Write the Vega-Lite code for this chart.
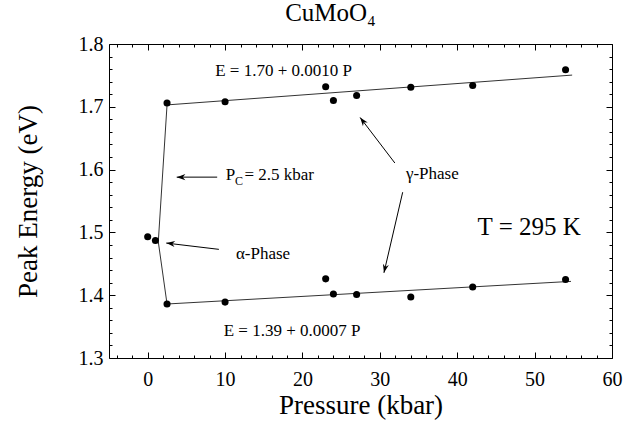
{
  "$schema": "https://vega.github.io/schema/vega-lite/v6.json",
  "width": 503,
  "height": 314,
  "autosize": "none",
  "padding": {"left": 109, "top": 44, "right": 24, "bottom": 68},
  "background": "white",
  "config": {
    "view": {"stroke": "black", "strokeWidth": 1},
    "font": "Liberation Serif"
  },
  "title": {
    "text": "CuMoO₄",
    "font": "Liberation Serif",
    "fontSize": 25,
    "fontWeight": "normal",
    "color": "black",
    "anchor": "middle",
    "dx": -30,
    "offset": 8
  },
  "datasets": {
    "pts": [
      {"P": 2.5, "E": 1.706, "phase": "gamma-upper"},
      {"P": 10, "E": 1.708, "phase": "gamma-upper"},
      {"P": 23, "E": 1.732, "phase": "gamma-upper"},
      {"P": 24, "E": 1.710, "phase": "gamma-upper"},
      {"P": 27, "E": 1.718, "phase": "gamma-upper"},
      {"P": 34, "E": 1.731, "phase": "gamma-upper"},
      {"P": 42, "E": 1.734, "phase": "gamma-upper"},
      {"P": 54, "E": 1.759, "phase": "gamma-upper"},
      {"P": 2.5, "E": 1.386, "phase": "gamma-lower"},
      {"P": 10, "E": 1.389, "phase": "gamma-lower"},
      {"P": 23, "E": 1.426, "phase": "gamma-lower"},
      {"P": 24, "E": 1.402, "phase": "gamma-lower"},
      {"P": 27, "E": 1.401, "phase": "gamma-lower"},
      {"P": 34, "E": 1.397, "phase": "gamma-lower"},
      {"P": 42, "E": 1.413, "phase": "gamma-lower"},
      {"P": 54, "E": 1.425, "phase": "gamma-lower"},
      {"P": 0, "E": 1.493, "phase": "alpha"},
      {"P": 1, "E": 1.487, "phase": "alpha"}
    ],
    "fit": [
      {"ord": 1, "P": 54.85, "E": 1.7505},
      {"ord": 2, "P": 2.5, "E": 1.703},
      {"ord": 3, "P": 1.37, "E": 1.485},
      {"ord": 4, "P": 2.5, "E": 1.386},
      {"ord": 5, "P": 54.7, "E": 1.422}
    ],
    "arrows": [
      {"P": 8.98, "E": 1.588, "P2": 3.75, "E2": 1.588},
      {"P": 9.2, "E": 1.473, "P2": 2.4, "E2": 1.483},
      {"P": 31.94, "E": 1.6105, "P2": 27.45, "E2": 1.683},
      {"P": 32.95, "E": 1.564, "P2": 30.53, "E2": 1.4356}
    ],
    "notes": [
      {"label": "E = 1.70 + 0.0010 P", "P": 17.56, "E": 1.7568},
      {"label": "E = 1.39 + 0.0007 P", "P": 18.66, "E": 1.3426},
      {"label": "γ-Phase", "P": 36.78, "E": 1.5926},
      {"label": "α-Phase", "P": 14.9, "E": 1.465}
    ],
    "tnote": [{"label": "T = 295 K", "P": 49.3, "E": 1.508}],
    "pc": [
      {"label": "P", "P": 10.08, "E": 1.591},
      {"label": "= 2.5 kbar", "P": 12.5, "E": 1.591}
    ],
    "pcsub": [{"label": "C", "P": 11.27, "E": 1.582}]
  },
  "resolve": {"axis": {"x": "independent", "y": "independent"}},
  "layer": [
    {
      "data": {"name": "fit"},
      "mark": {"type": "line", "color": "#333333", "strokeWidth": 1},
      "encoding": {
        "x": {
          "field": "P", "type": "quantitative",
          "scale": {"domain": [-5, 60], "nice": false, "zero": false},
          "axis": {
            "orient": "bottom",
            "values": [-4, -2, 0, 2, 4, 6, 8, 10, 12, 14, 16, 18, 20, 22, 24, 26, 28, 30, 32, 34, 36, 38, 40, 42, 44, 46, 48, 50, 52, 54, 56, 58, 60],
            "format": "d",
            "labelExpr": "datum.value % 10 === 0 ? datum.label : ''",
            "tickSize": {"condition": {"test": "datum.value % 10 === 0", "value": -6}, "value": -3},
            "tickColor": "black",
            "domain": false,
            "grid": false,
            "labelFont": "Liberation Serif",
            "labelFontSize": 20,
            "labelColor": "black",
            "labelPadding": 17,
            "labelFlush": false,
            "labelOverlap": false,
            "title": "Pressure (kbar)",
            "titleFont": "Liberation Serif",
            "titleFontSize": 27,
            "titleFontWeight": "normal",
            "titleColor": "black",
            "titlePadding": 0
          }
        },
        "y": {
          "field": "E", "type": "quantitative",
          "scale": {"domain": [1.3, 1.8], "nice": false, "zero": false},
          "axis": {
            "orient": "left",
            "values": [1.30, 1.32, 1.34, 1.36, 1.38, 1.40, 1.42, 1.44, 1.46, 1.48, 1.50, 1.52, 1.54, 1.56, 1.58, 1.60, 1.62, 1.64, 1.66, 1.68, 1.70, 1.72, 1.74, 1.76, 1.78, 1.80],
            "format": ".1f",
            "labelExpr": "abs(datum.value * 10 - round(datum.value * 10)) < 0.01 ? datum.label : ''",
            "tickSize": {"condition": {"test": "abs(datum.value * 10 - round(datum.value * 10)) < 0.01", "value": -6}, "value": -3},
            "tickColor": "black",
            "domain": false,
            "grid": false,
            "labelFont": "Liberation Serif",
            "labelFontSize": 20,
            "labelColor": "black",
            "labelPadding": 12,
            "labelOverlap": false,
            "labelFlush": false,
            "title": "Peak Energy (eV)",
            "titleFont": "Liberation Serif",
            "titleFontSize": 27,
            "titleFontWeight": "normal",
            "titleColor": "black",
            "titlePadding": 36
          }
        },
        "order": {"field": "ord", "type": "quantitative"}
      }
    },
    {
      "data": {"name": "pts"},
      "mark": {"type": "circle", "color": "black", "size": 50, "opacity": 1},
      "encoding": {
        "x": {
          "field": "P", "type": "quantitative",
          "scale": {"domain": [-5, 60], "nice": false, "zero": false},
          "axis": {
            "orient": "top",
            "values": [-4, -2, 0, 2, 4, 6, 8, 10, 12, 14, 16, 18, 20, 22, 24, 26, 28, 30, 32, 34, 36, 38, 40, 42, 44, 46, 48, 50, 52, 54, 56, 58, 60],
            "labels": false,
            "tickSize": {"condition": {"test": "datum.value % 10 === 0", "value": -6}, "value": -3},
            "tickColor": "black",
            "domain": false,
            "grid": false,
            "title": null
          }
        },
        "y": {
          "field": "E", "type": "quantitative",
          "scale": {"domain": [1.3, 1.8], "nice": false, "zero": false},
          "axis": {
            "orient": "right",
            "values": [1.30, 1.32, 1.34, 1.36, 1.38, 1.40, 1.42, 1.44, 1.46, 1.48, 1.50, 1.52, 1.54, 1.56, 1.58, 1.60, 1.62, 1.64, 1.66, 1.68, 1.70, 1.72, 1.74, 1.76, 1.78, 1.80],
            "labels": false,
            "tickSize": {"condition": {"test": "abs(datum.value * 10 - round(datum.value * 10)) < 0.01", "value": -6}, "value": -3},
            "tickColor": "black",
            "domain": false,
            "grid": false,
            "title": null
          }
        }
      }
    },
    {
      "data": {"name": "arrows"},
      "mark": {"type": "rule", "color": "black", "strokeWidth": 1},
      "encoding": {
        "x": {"field": "P", "type": "quantitative", "scale": {"domain": [-5, 60], "nice": false, "zero": false}, "axis": null},
        "y": {"field": "E", "type": "quantitative", "scale": {"domain": [1.3, 1.8], "nice": false, "zero": false}, "axis": null},
        "x2": {"field": "P2"},
        "y2": {"field": "E2"}
      }
    },
    {
      "data": {"name": "arrows"},
      "transform": [
        {"calculate": "atan2(-(datum.E2 - datum.E) * 628, (datum.P2 - datum.P) * 7.738) * 180 / PI", "as": "heading"}
      ],
      "mark": {"type": "point", "shape": "M0,0L-1,-0.35L-0.7,0L-1,0.35Z", "filled": true, "color": "black", "size": 300, "opacity": 1},
      "encoding": {
        "x": {"field": "P2", "type": "quantitative", "scale": {"domain": [-5, 60], "nice": false, "zero": false}, "axis": null},
        "y": {"field": "E2", "type": "quantitative", "scale": {"domain": [1.3, 1.8], "nice": false, "zero": false}, "axis": null},
        "angle": {"field": "heading", "type": "quantitative", "scale": null}
      }
    },
    {
      "data": {"name": "notes"},
      "mark": {"type": "text", "font": "Liberation Serif", "fontSize": 17, "color": "black", "align": "center", "baseline": "middle"},
      "encoding": {
        "x": {"field": "P", "type": "quantitative", "scale": {"domain": [-5, 60], "nice": false, "zero": false}, "axis": null},
        "y": {"field": "E", "type": "quantitative", "scale": {"domain": [1.3, 1.8], "nice": false, "zero": false}, "axis": null},
        "text": {"field": "label"}
      }
    },
    {
      "data": {"name": "tnote"},
      "mark": {"type": "text", "font": "Liberation Serif", "fontSize": 25, "color": "black", "align": "center", "baseline": "middle"},
      "encoding": {
        "x": {"field": "P", "type": "quantitative", "scale": {"domain": [-5, 60], "nice": false, "zero": false}, "axis": null},
        "y": {"field": "E", "type": "quantitative", "scale": {"domain": [1.3, 1.8], "nice": false, "zero": false}, "axis": null},
        "text": {"field": "label"}
      }
    },
    {
      "data": {"name": "pc"},
      "mark": {"type": "text", "font": "Liberation Serif", "fontSize": 17, "color": "black", "align": "left", "baseline": "middle"},
      "encoding": {
        "x": {"field": "P", "type": "quantitative", "scale": {"domain": [-5, 60], "nice": false, "zero": false}, "axis": null},
        "y": {"field": "E", "type": "quantitative", "scale": {"domain": [1.3, 1.8], "nice": false, "zero": false}, "axis": null},
        "text": {"field": "label"}
      }
    },
    {
      "data": {"name": "pcsub"},
      "mark": {"type": "text", "font": "Liberation Serif", "fontSize": 12, "color": "black", "align": "left", "baseline": "middle"},
      "encoding": {
        "x": {"field": "P", "type": "quantitative", "scale": {"domain": [-5, 60], "nice": false, "zero": false}, "axis": null},
        "y": {"field": "E", "type": "quantitative", "scale": {"domain": [1.3, 1.8], "nice": false, "zero": false}, "axis": null},
        "text": {"field": "label"}
      }
    }
  ]
}
